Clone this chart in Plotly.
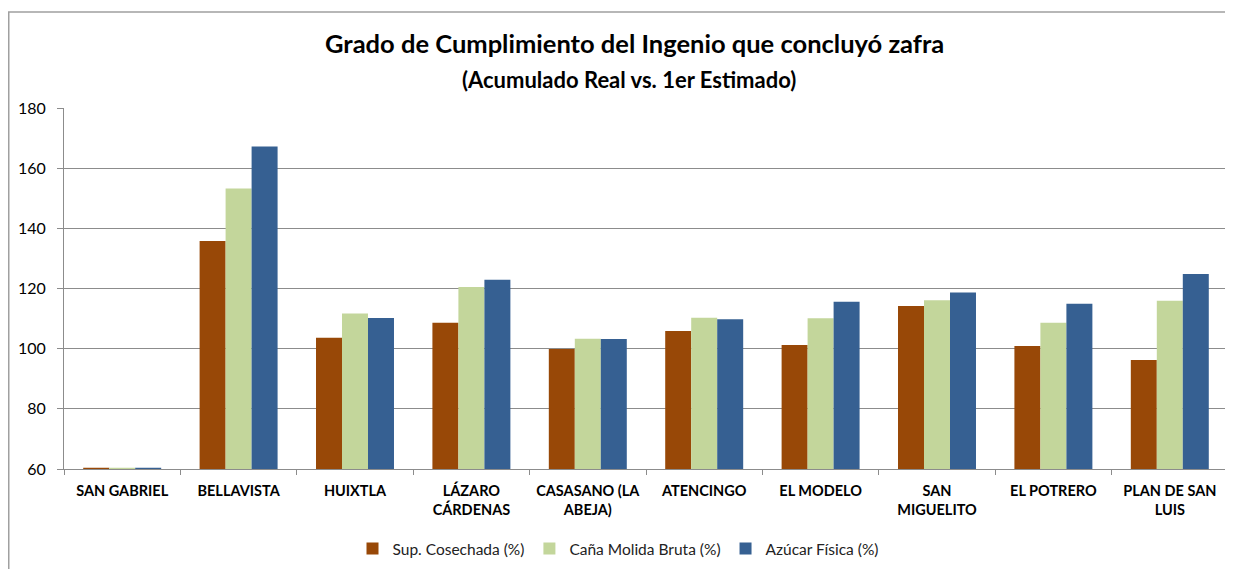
import plotly.graph_objects as go

categories = ["SAN GABRIEL", "BELLAVISTA", "HUIXTLA", "LÁZARO<br>CÁRDENAS", "CASASANO (LA<br>ABEJA)",
              "ATENCINGO", "EL MODELO", "SAN<br>MIGUELITO", "EL POTRERO", "PLAN DE SAN<br>LUIS"]
sup_cosechada = [60.4, 135.8, 103.6, 108.6, 99.9, 105.9, 101.2, 114.2, 100.9, 96.2]
cana_molida = [60.4, 153.2, 111.7, 120.5, 103.3, 110.3, 110.1, 116.1, 108.6, 115.9]
azucar_fisica = [60.4, 167.2, 110.2, 122.9, 103.2, 109.8, 115.6, 118.7, 114.9, 124.8]
series_names = ["Sup. Cosechada (%)", "Caña Molida Bruta (%)", "Azúcar Física (%)"]
colors = ["#984807", "#C3D69B", "#366092"]
y_ticks = [60, 80, 100, 120, 140, 160, 180]
title_text = "Grado de Cumplimiento del Ingenio que concluyó zafra"
subtitle_text = "(Acumulado Real vs. 1er Estimado)"

FONT = "Lato, 'Open Sans', sans-serif"
# page body has an 8px margin, so the figure is drawn 8px smaller and offset
W, H = 1225, 561
L, R, T, B = 56, 5, 100, 100
PW, PH = W - L - R, H - T - B


def px_x(x):
    return (x - L) / PW


def px_y(y):
    return (H - B - y) / PH


fig = go.Figure()
for name, vals, col in zip(series_names, [sup_cosechada, cana_molida, azucar_fisica], colors):
    fig.add_trace(go.Bar(x=categories, y=vals, name=name, marker_color=col,
                         marker_line_width=0))

fig.update_layout(
    width=W, height=H,
    paper_bgcolor="white", plot_bgcolor="white",
    margin=dict(l=L, r=R, t=T, b=B, autoexpand=False),
    barmode="group", bargap=0.33, bargroupgap=0,
    font=dict(family=FONT, color="black"),
    legend=dict(orientation="h", x=px_x(610), xanchor="center",
                y=px_y(524), yanchor="top",
                font=dict(size=15.5, family=FONT, color="#222"),
                itemwidth=30, traceorder="normal"),
    showlegend=True,
)
fig.add_annotation(text="<b>" + title_text + "</b>", xref="paper", yref="paper",
                   x=px_x(626), y=px_y(35), xanchor="center", yanchor="middle",
                   showarrow=False, font=dict(size=25.5, family=FONT, color="black"))
fig.add_annotation(text="<b>" + subtitle_text + "</b>", xref="paper", yref="paper",
                   x=px_x(621), y=px_y(71), xanchor="center", yanchor="middle",
                   showarrow=False, font=dict(size=22, family=FONT, color="black"))

fig.update_yaxes(range=[60, 180], tickvals=y_ticks, showgrid=True, gridcolor="#8c8c8c", gridwidth=1,
                 showline=True, linecolor="#8c8c8c", linewidth=1, ticks="outside", ticklen=6,
                 tickcolor="#8c8c8c", tickfont=dict(size=16, family=FONT, color="black"),
                 ticklabelstandoff=8, zeroline=False, automargin=False)
fig.update_xaxes(showline=True, linecolor="#8c8c8c", linewidth=1, ticks="outside", ticklen=5,
                 tickcolor="#8c8c8c", tickson="boundaries", automargin=False,
                 ticklabelstandoff=9,
                 tickfont=dict(size=14.5, family=FONT, color="black"),
                 tickvals=categories, ticktext=["<b>" + c + "</b>" for c in categories])

# outer chart border
fig.add_shape(type="rect", xref="paper", yref="paper",
              x0=px_x(0.75), x1=px_x(W + 20),
              y0=px_y(H + 20), y1=px_y(4),
              line=dict(color="#a0a0a0", width=1.5), fillcolor="rgba(0,0,0,0)", layer="below")

fig.write_html("out.html")
